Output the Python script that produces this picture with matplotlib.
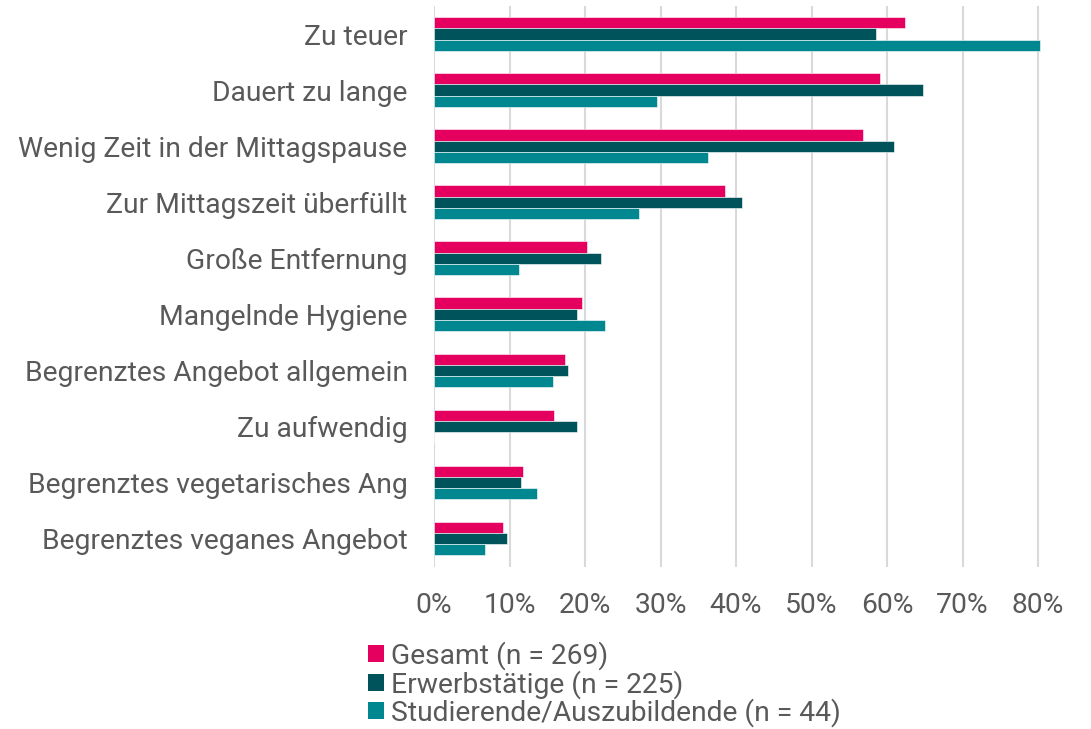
import numpy as np
import matplotlib
matplotlib.use("Agg")
import matplotlib.pyplot as plt
from matplotlib.patches import Patch
from matplotlib.ticker import PercentFormatter

# Reasons (top to bottom) and shares per group
categories = [
    "Zu teuer",
    "Dauert zu lange",
    "Wenig Zeit in der Mittagspause",
    "Zur Mittagszeit überfüllt",
    "Große Entfernung",
    "Mangelnde Hygiene",
    "Begrenztes Angebot allgemein",
    "Zu aufwendig",
    "Begrenztes vegetarisches Ang",
    "Begrenztes veganes Angebot",
]
gesamt = [0.624, 0.591, 0.568, 0.386, 0.203, 0.196, 0.174, 0.159, 0.118, 0.092]
erwerbstaetige = [0.586, 0.648, 0.609, 0.408, 0.221, 0.190, 0.177, 0.190, 0.115, 0.097]
studierende = [0.802, 0.295, 0.363, 0.272, 0.113, 0.227, 0.158, 0.0, 0.136, 0.068]

series_labels = [
    "Gesamt (n = 269)",
    "Erwerbstätige (n = 225)",
    "Studierende/Auszubildende (n = 44)",
]
colors = ["#E5005F", "#00535B", "#008790"]

plt.rcParams["font.family"] = ["Roboto", "DejaVu Sans"]
text_color = "#595959"
fs = 20.3

fig = plt.figure(figsize=(10.91, 7.29), dpi=100)
ax = fig.add_axes([0.3978, 0.2229, 0.5606, 0.7689])

y = np.arange(len(categories))
h = 0.2
for offset, vals, col, lab in zip([-h, 0, h], [gesamt, erwerbstaetige, studierende],
                                  colors, series_labels):
    ax.barh(y + offset, vals, height=h, color=col, label=lab,
            edgecolor="white", linewidth=0.4, zorder=3)

ax.set_ylim(len(categories) - 0.5, -0.5)
ax.set_xlim(0, 0.81)
ax.set_xticks(np.arange(0, 0.81, 0.1))
ax.xaxis.set_major_formatter(PercentFormatter(1.0, decimals=0))
ax.set_yticks(y)
ax.set_yticklabels(categories)

ax.grid(axis="x", color="#D9D9D9", linewidth=1.5, zorder=0)
ax.grid(axis="y", visible=False)
for s in ax.spines.values():
    s.set_visible(False)
ax.tick_params(axis="both", length=0, labelsize=fs, labelcolor=text_color)
ax.tick_params(axis="x", pad=18)
ax.tick_params(axis="y", pad=19)

handles = [Patch(facecolor=c, edgecolor="none") for c in colors]
fig.legend(handles, series_labels, loc="upper left",
           bbox_to_anchor=(368 / 1091, 1 - 641 / 729),
           frameon=False, fontsize=fs, labelcolor=text_color,
           handlelength=0.55, handleheight=0.55, handletextpad=0.25,
           labelspacing=0.0, borderpad=0, borderaxespad=0)

fig.savefig("out.png", dpi=100)
